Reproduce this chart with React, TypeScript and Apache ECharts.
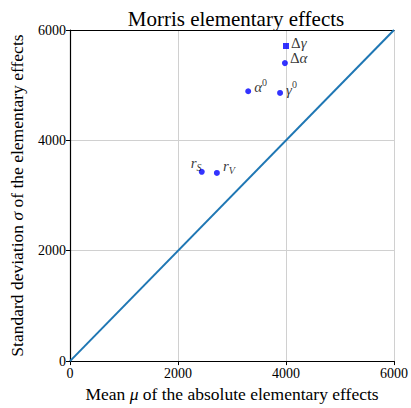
import React, { useEffect, useRef } from "react";
import * as echarts from "echarts";

const labels = ["Δγ", "Δα", "α0", "γ0", "rS", "rV"];
const muValues = [4000, 3980, 3300, 3890, 2440, 2720];
const sigmaValues = [5710, 5400, 4890, 4860, 3430, 3410];
const labelOffsets: [number, number][] = [[2, -3], [2, -5], [3, -4], [3, -3], [-14, -9], [3, -7]];
const diagonal = [[0, 0], [6000, 6000]];

const FONT = "Liberation Serif";

function formatLabel(l: string) {
  switch (l) {
    case "Δγ": return "{u|Δ}{i|γ}";
    case "Δα": return "{u|Δ}{i|α}";
    case "α0": return "{i|α}{sup|0}";
    case "γ0": return "{i|γ}{sup|0}";
    case "rS": return "{i|r}{sub|S}";
    case "rV": return "{i|r}{sub|V}";
  }
  return l;
}

export default function App() {
  const ref = useRef<HTMLDivElement>(null);
  useEffect(() => {
    const chart = echarts.init(ref.current!, null, { renderer: "svg" });
    const rich = {
      u: { fontFamily: FONT, fontSize: 15, color: "#000", lineHeight: 20 },
      i: { fontFamily: FONT, fontStyle: "italic", fontSize: 15, color: "#000", lineHeight: 20 },
      sup: { fontFamily: FONT, fontSize: 10, color: "#000", lineHeight: 20, verticalAlign: "top" },
      sub: { fontFamily: FONT, fontStyle: "italic", fontSize: 10, color: "#000", lineHeight: 20, verticalAlign: "bottom" },
    };
    const points = labels.map((l, i) => ({
      value: [muValues[i], sigmaValues[i]],
      symbol: l === "Δγ" ? "rect" : "circle",
      label: {
        show: true,
        position: "right",
        distance: 0,
        offset: labelOffsets[i],
        formatter: formatLabel(l),
        rich,
      },
    }));
    const tickFmt = (v: number) => String(v);
    chart.setOption({
      animation: false,
      backgroundColor: "#fff",
      title: {
        text: "Morris elementary effects",
        left: 231,
        textAlign: "center",
        top: 3,
        textStyle: { fontFamily: FONT, fontSize: 21, fontWeight: "normal", color: "#000" },
      },
      grid: { left: 69, right: 17, top: 30, bottom: 41, containLabel: false },
      xAxis: [
        {
          type: "value",
          min: 0,
          max: 6000,
          interval: 2000,
          name: "Mean {i|μ} of the absolute elementary effects",
          nameLocation: "middle",
          nameGap: 22,
          nameTextStyle: {
            fontFamily: FONT, fontSize: 17.5, color: "#000",
            rich: { i: { fontFamily: FONT, fontStyle: "italic", fontSize: 17.5, color: "#000" } },
          },
          axisLine: { show: true, lineStyle: { color: "#000", width: 1.2 } },
          axisTick: { show: true, length: 4, lineStyle: { color: "#000" } },
          axisLabel: { fontFamily: FONT, fontSize: 14, color: "#000", margin: 5, formatter: tickFmt },
          splitLine: { show: true, lineStyle: { color: "#d0d0d0", width: 1 } },
        },
        {
          type: "value",
          position: "top",
          min: 0,
          max: 6000,
          axisLine: { show: true, lineStyle: { color: "#000", width: 1.2 } },
          axisTick: { show: false },
          axisLabel: { show: false },
          splitLine: { show: false },
        },
      ],
      yAxis: {
        type: "value",
        min: 0,
        max: 6000,
        interval: 2000,
        name: "Standard deviation {i|σ} of the elementary effects",
        nameLocation: "middle",
        nameGap: 44,
        nameTextStyle: {
          fontFamily: FONT, fontSize: 17.5, color: "#000",
          rich: { i: { fontFamily: FONT, fontStyle: "italic", fontSize: 17.5, color: "#000" } },
        },
        axisLine: { show: true, lineStyle: { color: "#000", width: 1.2 } },
        axisTick: { show: true, length: 4, lineStyle: { color: "#000" } },
        axisLabel: { fontFamily: FONT, fontSize: 14, color: "#000", margin: 4, formatter: tickFmt },
        splitLine: { show: true, lineStyle: { color: "#d0d0d0", width: 1 } },
      },
      series: [
        {
          type: "line",
          data: diagonal,
          symbol: "none",
          lineStyle: { color: "#1f77b4", width: 2 },
          z: 2,
        },
        {
          type: "scatter",
          data: points,
          symbolSize: 6,
          itemStyle: { color: "#0000ff" },
          z: 3,
        },
      ],
    });
    return () => chart.dispose();
  }, []);
  return (
    <div
      ref={ref}
      style={{ position: "fixed", left: 0, top: 0, width: 411, height: 408 }}
    />
  );
}
